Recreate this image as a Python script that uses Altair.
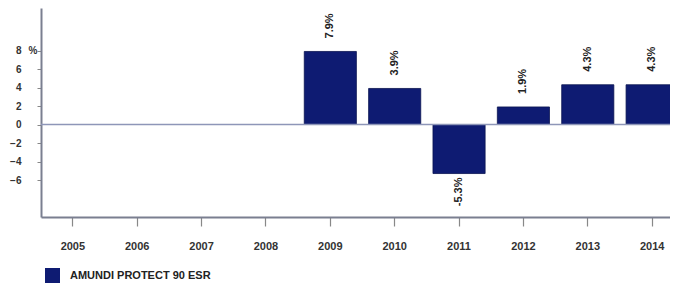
import altair as alt
import pandas as pd

years = ["2005", "2006", "2007", "2008", "2009", "2010", "2011", "2012", "2013", "2014"]
values = [None, None, None, None, 7.9, 3.9, -5.3, 1.9, 4.3, 4.3]
labels = ["", "", "", "", "7.9%", "3.9%", "-5.3%", "1.9%", "4.3%", "4.3%"]
series = "AMUNDI PROTECT 90 ESR"
y_ticks = [-6, -4, -2, 0, 2, 4, 6, 8]

df = pd.DataFrame({"year": years, "value": values, "label": labels, "series": [series] * len(years)})
df_bars = df.dropna(subset=["value"])

FONT = "Liberation Sans"
BAR = "#0e1b72"

xscale = alt.Scale(type="band", domain=years, range=[0, 643], paddingInner=0.19, paddingOuter=0.09)
yscale = alt.Scale(domain=[-10, 12.6], nice=False, zero=False)

xaxis = alt.Axis(title=None, labelAngle=0, labelFont=FONT, labelFontSize=11, labelFontWeight="bold",
                 labelColor="#333", tickSize=9, tickColor="#888", tickWidth=1.2, labelPadding=14,
                 domainColor="#7a7f90", domainWidth=2, grid=False)
yaxis = alt.Axis(title=None, values=y_ticks, labelOverlap=False, labelFont=FONT, labelFontSize=10,
                 labelFontWeight="bold", labelColor="#333", tickSize=4, tickColor="#888", labelPadding=16,
                 domainColor="#7a7f90", domainWidth=2, grid=False)

base = alt.Chart(df_bars)

bars = base.mark_bar(stroke="#0a1450", strokeWidth=0.8).encode(
    x=alt.X("year:N", scale=xscale, axis=xaxis),
    y=alt.Y("value:Q", scale=yscale, axis=yaxis),
    color=alt.Color("series:N", scale=alt.Scale(range=[BAR]),
                    legend=alt.Legend(title=None, orient="none", legendX=4, legendY=260,
                                      symbolType="square", symbolSize=225, symbolStrokeWidth=0,
                                      labelFont=FONT, labelFontSize=11, labelFontWeight="bold",
                                      labelColor="#222", labelOffset=10, padding=0)),
)

zero = alt.Chart(pd.DataFrame({"value": [0]})).mark_rule(color="#8e96b8", strokeWidth=1.5).encode(
    y=alt.Y("value:Q", scale=yscale, axis=yaxis)
)

pos_labels = base.transform_filter("datum.value >= 0").mark_text(
    angle=270, align="left", baseline="middle", dx=13, font=FONT, fontSize=11, fontWeight="bold", color="#222"
).encode(x=alt.X("year:N", scale=xscale, axis=xaxis), y=alt.Y("value:Q", scale=yscale, axis=yaxis),
         text="label:N")

neg_labels = base.transform_filter("datum.value < 0").mark_text(
    angle=270, align="right", baseline="middle", dx=-4, font=FONT, fontSize=11, fontWeight="bold", color="#222"
).encode(x=alt.X("year:N", scale=xscale, axis=xaxis), y=alt.Y("value:Q", scale=yscale, axis=yaxis),
         text="label:N")

pct = alt.Chart(pd.DataFrame({"value": [8], "t": ["%"]})).mark_text(
    align="center", baseline="middle", font=FONT, fontSize=10, fontWeight="bold", color="#333"
).encode(x=alt.value(-8), y=alt.Y("value:Q", scale=yscale, axis=yaxis), text="t:N")

chart = alt.layer(bars, zero, pos_labels, neg_labels, pct).properties(
    width=629, height=209,
    background="white",
    autosize=alt.AutoSizeParams(type="none"),
    padding={"left": 33, "top": 0, "right": 0, "bottom": 67},
).configure_view(stroke=None).configure_axisY(labelOverlap=False)

chart.save("out.html", embed_options={"renderer": "svg", "actions": False})
